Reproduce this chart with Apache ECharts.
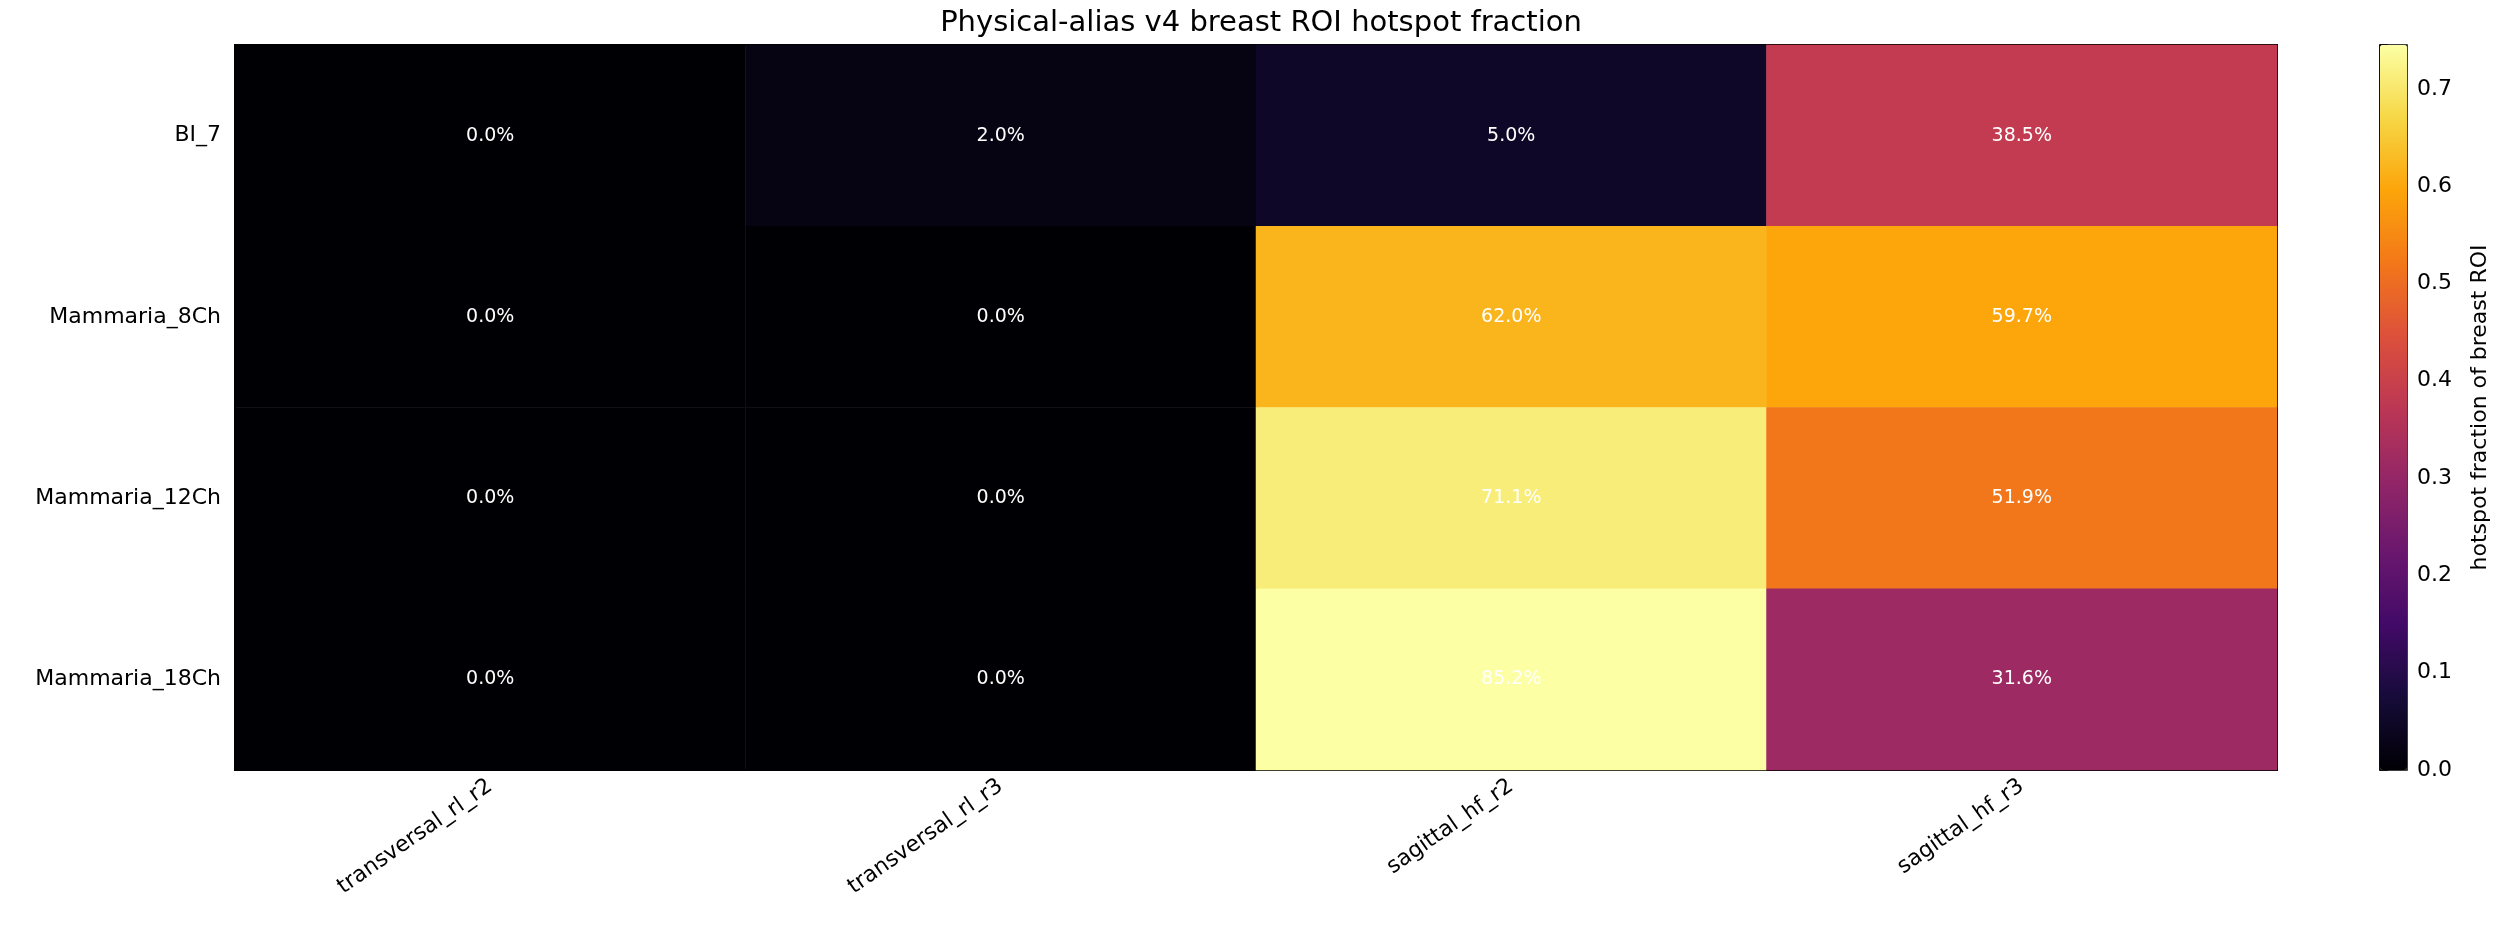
<!DOCTYPE html>
<html>
<head>
<meta charset="utf-8">
<script src="https://cdn.jsdelivr.net/npm/echarts@6/dist/echarts.min.js"></script>
<style>html,body{margin:0;background:#fff}#chart{width:2520px;height:936px}</style>
</head>
<body>
<div id="chart"></div>
<script>
const coils = ['BI_7', 'Mammaria_8Ch', 'Mammaria_12Ch', 'Mammaria_18Ch'];
const modes = ['transversal_rl_r2', 'transversal_rl_r3', 'sagittal_hf_r2', 'sagittal_hf_r3'];
// rows follow coils, columns follow modes
const fractions = [
    [0.000, 0.020, 0.050, 0.385],
    [0.000, 0.000, 0.620, 0.597],
    [0.000, 0.000, 0.711, 0.519],
    [0.000, 0.000, 0.852, 0.316]
];
const colorbarTicks = [0, 0.1, 0.2, 0.3, 0.4, 0.5, 0.6, 0.7];
const vmax = 0.745;

const inferno = ['#000004', '#160b39', '#420a68', '#6a176e', '#932667',
    '#bc3754', '#dd513a', '#f37819', '#fca50a', '#f6d746', '#fcffa4'];

const cells = [];
fractions.forEach((row, i) => row.forEach((v, j) => cells.push([j, i, v])));

const font = 'DejaVu Sans';
const chart = echarts.init(document.getElementById('chart'), null, { renderer: 'canvas' });
chart.setOption({
    animation: false,
    textStyle: { fontFamily: font },
    title: {
        text: 'Physical-alias v4 breast ROI hotspot fraction',
        left: 1256, top: 4, textAlign: 'center',
        textStyle: { fontFamily: font, fontSize: 29, fontWeight: 'normal', color: '#000' }
    },
    grid: [
        { left: 235, top: 45, width: 2042, height: 725, show: true, borderColor: '#000', borderWidth: 2, backgroundColor: 'transparent' },
        { left: 2380, top: 45, width: 27, height: 725, show: true, borderColor: '#000', borderWidth: 1.5, backgroundColor: 'transparent' }
    ],
    xAxis: [
        {
            type: 'category', data: modes, gridIndex: 0,
            axisLine: { lineStyle: { color: '#000', width: 2 } },
            axisTick: { alignWithLabel: true, length: 8, lineStyle: { color: '#000', width: 1.5 } },
            axisLabel: { rotate: 35, fontSize: 22, color: '#000', fontFamily: font, margin: 14 },
            splitLine: { show: false }
        },
        { type: 'value', gridIndex: 1, show: false }
    ],
    yAxis: [
        {
            type: 'category', data: coils, inverse: true, gridIndex: 0,
            axisLine: { lineStyle: { color: '#000', width: 2 } },
            axisTick: { alignWithLabel: true, length: 8, lineStyle: { color: '#000', width: 1.5 } },
            axisLabel: { fontSize: 22, color: '#000', fontFamily: font, margin: 14 },
            splitLine: { show: false }
        },
        {
            type: 'value', gridIndex: 1, position: 'right', min: 0, max: vmax, interval: 0.1,
            axisLine: { show: true, lineStyle: { color: '#000', width: 1.5 } },
            axisTick: { show: true, length: 8, lineStyle: { color: '#000', width: 1.5 } },
            axisLabel: {
                fontSize: 22, color: '#000', fontFamily: font, margin: 10,
                formatter: v => colorbarTicks.some(t => Math.abs(t - v) < 1e-6) ? v.toFixed(1) : ''
            },
            splitLine: { show: false },
            name: 'hotspot fraction of breast ROI', nameLocation: 'middle', nameRotate: 90, nameGap: 62,
            nameTextStyle: { fontSize: 22, color: '#000', fontFamily: font }
        }
    ],
    visualMap: {
        type: 'continuous', min: 0, max: vmax, seriesIndex: 0,
        left: 2380, top: 45, itemWidth: 27, itemHeight: 725, padding: 0,
        calculable: false, showLabel: false, text: ['', ''], realtime: false,
        inRange: { color: inferno }, hoverLink: false
    },
    series: [
        {
            type: 'heatmap', xAxisIndex: 0, yAxisIndex: 0, data: cells,
            label: {
                show: true, color: '#fff', fontSize: 19, fontFamily: font,
                formatter: p => (p.value[2] * 100).toFixed(1) + '%'
            },
            emphasis: { disabled: true }
        },
        { type: 'line', xAxisIndex: 1, yAxisIndex: 1, data: [], silent: true }
    ]
});
</script>
</body>
</html>
